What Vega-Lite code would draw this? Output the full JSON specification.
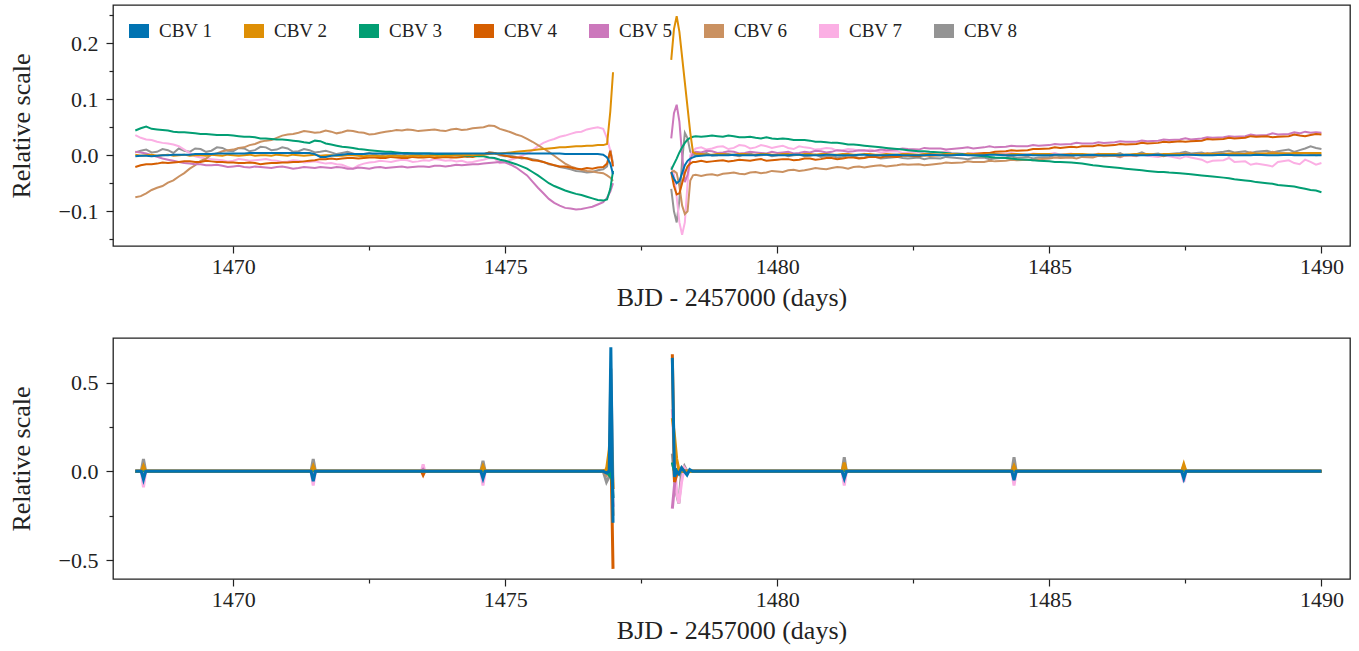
{
"$schema": "https://vega.github.io/schema/vega-lite/v6.json",
"background": "white",
"padding": {"left": 7, "top": 4, "right": 8, "bottom": 5},
"config": {
  "font": "Liberation Serif, serif",
  "view": {"stroke": "#222", "strokeWidth": 1.3},
  "axis": {"grid": false, "domain": false, "tickColor": "#222", "labelColor": "#222", "titleColor": "#222", "labelFont": "Liberation Serif, serif", "titleFont": "Liberation Serif, serif", "labelFontSize": 22, "titleFontSize": 26, "titleFontWeight": "normal", "tickWidth": 1.2, "labelPadding": 3, "titlePadding": 7},
  "legend": {"labelFont": "Liberation Serif, serif"},
  "concat": {"spacing": 26}
},
"resolve": {"scale": {"color": "independent"}, "legend": {"color": "independent"}},
"vconcat": [
{
  "width": 1237, "height": 241,
  "data": {"values": [
{"o":1,"t":1468.2,"CBV 1":-0.002,"CBV 2":0.001,"CBV 3":0.044,"CBV 4":-0.021,"CBV 5":0.006,"CBV 6":-0.075,"CBV 7":0.036,"CBV 8":0.005},
{"o":1,"t":1468.3,"CBV 1":-0.001,"CBV 2":-0.001,"CBV 3":0.048,"CBV 4":-0.018,"CBV 5":0.005,"CBV 6":-0.073,"CBV 7":0.031,"CBV 8":0.008},
{"o":1,"t":1468.4,"CBV 1":-0.001,"CBV 2":0.000,"CBV 3":0.051,"CBV 4":-0.016,"CBV 5":0.003,"CBV 6":-0.068,"CBV 7":0.028,"CBV 8":0.010},
{"o":1,"t":1468.5,"CBV 1":-0.002,"CBV 2":0.001,"CBV 3":0.047,"CBV 4":-0.016,"CBV 5":0.000,"CBV 6":-0.062,"CBV 7":0.027,"CBV 8":0.005},
{"o":1,"t":1468.6,"CBV 1":-0.001,"CBV 2":-0.001,"CBV 3":0.046,"CBV 4":-0.015,"CBV 5":-0.003,"CBV 6":-0.058,"CBV 7":0.024,"CBV 8":0.006},
{"o":1,"t":1468.7,"CBV 1":0.000,"CBV 2":0.000,"CBV 3":0.045,"CBV 4":-0.013,"CBV 5":-0.006,"CBV 6":-0.055,"CBV 7":0.022,"CBV 8":0.011},
{"o":1,"t":1468.8,"CBV 1":0.000,"CBV 2":0.001,"CBV 3":0.044,"CBV 4":-0.014,"CBV 5":-0.008,"CBV 6":-0.049,"CBV 7":0.021,"CBV 8":0.009},
{"o":1,"t":1468.9,"CBV 1":0.001,"CBV 2":-0.001,"CBV 3":0.042,"CBV 4":-0.013,"CBV 5":-0.010,"CBV 6":-0.045,"CBV 7":0.019,"CBV 8":0.004},
{"o":1,"t":1469.0,"CBV 1":0.001,"CBV 2":0.000,"CBV 3":0.041,"CBV 4":-0.012,"CBV 5":-0.012,"CBV 6":-0.038,"CBV 7":0.016,"CBV 8":0.012},
{"o":1,"t":1469.1,"CBV 1":0.001,"CBV 2":0.001,"CBV 3":0.041,"CBV 4":-0.011,"CBV 5":-0.014,"CBV 6":-0.032,"CBV 7":0.010,"CBV 8":0.008},
{"o":1,"t":1469.2,"CBV 1":0.001,"CBV 2":-0.001,"CBV 3":0.040,"CBV 4":-0.011,"CBV 5":-0.015,"CBV 6":-0.024,"CBV 7":0.004,"CBV 8":0.006},
{"o":1,"t":1469.3,"CBV 1":0.002,"CBV 2":0.000,"CBV 3":0.039,"CBV 4":-0.012,"CBV 5":-0.016,"CBV 6":-0.018,"CBV 7":-0.002,"CBV 8":0.012},
{"o":1,"t":1469.4,"CBV 1":0.002,"CBV 2":0.000,"CBV 3":0.038,"CBV 4":-0.012,"CBV 5":-0.016,"CBV 6":-0.010,"CBV 7":-0.004,"CBV 8":0.011},
{"o":1,"t":1469.5,"CBV 1":0.002,"CBV 2":-0.001,"CBV 3":0.038,"CBV 4":-0.010,"CBV 5":-0.018,"CBV 6":-0.006,"CBV 7":-0.006,"CBV 8":0.006},
{"o":1,"t":1469.6,"CBV 1":0.002,"CBV 2":0.001,"CBV 3":0.037,"CBV 4":-0.011,"CBV 5":-0.018,"CBV 6":0.001,"CBV 7":-0.007,"CBV 8":0.008},
{"o":1,"t":1469.7,"CBV 1":0.003,"CBV 2":0.000,"CBV 3":0.036,"CBV 4":-0.012,"CBV 5":-0.017,"CBV 6":0.003,"CBV 7":-0.008,"CBV 8":0.014},
{"o":1,"t":1469.8,"CBV 1":0.003,"CBV 2":-0.001,"CBV 3":0.036,"CBV 4":-0.012,"CBV 5":-0.019,"CBV 6":0.007,"CBV 7":-0.009,"CBV 8":0.013},
{"o":1,"t":1469.9,"CBV 1":0.003,"CBV 2":0.001,"CBV 3":0.036,"CBV 4":-0.013,"CBV 5":-0.021,"CBV 6":0.009,"CBV 7":-0.011,"CBV 8":0.008},
{"o":1,"t":1470.0,"CBV 1":0.003,"CBV 2":0.000,"CBV 3":0.035,"CBV 4":-0.013,"CBV 5":-0.020,"CBV 6":0.010,"CBV 7":-0.010,"CBV 8":0.007},
{"o":1,"t":1470.1,"CBV 1":0.003,"CBV 2":-0.001,"CBV 3":0.034,"CBV 4":-0.014,"CBV 5":-0.019,"CBV 6":0.013,"CBV 7":-0.007,"CBV 8":0.013},
{"o":1,"t":1470.2,"CBV 1":0.003,"CBV 2":0.000,"CBV 3":0.033,"CBV 4":-0.014,"CBV 5":-0.021,"CBV 6":0.014,"CBV 7":-0.008,"CBV 8":0.012},
{"o":1,"t":1470.3,"CBV 1":0.004,"CBV 2":0.001,"CBV 3":0.033,"CBV 4":-0.013,"CBV 5":-0.022,"CBV 6":0.018,"CBV 7":-0.010,"CBV 8":0.007},
{"o":1,"t":1470.4,"CBV 1":0.004,"CBV 2":-0.001,"CBV 3":0.032,"CBV 4":-0.014,"CBV 5":-0.020,"CBV 6":0.020,"CBV 7":-0.009,"CBV 8":0.009},
{"o":1,"t":1470.5,"CBV 1":0.004,"CBV 2":0.000,"CBV 3":0.030,"CBV 4":-0.016,"CBV 5":-0.021,"CBV 6":0.024,"CBV 7":-0.008,"CBV 8":0.015},
{"o":1,"t":1470.6,"CBV 1":0.004,"CBV 2":0.000,"CBV 3":0.030,"CBV 4":-0.015,"CBV 5":-0.022,"CBV 6":0.026,"CBV 7":-0.007,"CBV 8":0.014},
{"o":1,"t":1470.7,"CBV 1":0.004,"CBV 2":-0.001,"CBV 3":0.029,"CBV 4":-0.014,"CBV 5":-0.023,"CBV 6":0.027,"CBV 7":-0.009,"CBV 8":0.009},
{"o":1,"t":1470.8,"CBV 1":0.004,"CBV 2":0.001,"CBV 3":0.028,"CBV 4":-0.014,"CBV 5":-0.021,"CBV 6":0.031,"CBV 7":-0.010,"CBV 8":0.010},
{"o":1,"t":1470.9,"CBV 1":0.004,"CBV 2":0.000,"CBV 3":0.028,"CBV 4":-0.013,"CBV 5":-0.020,"CBV 6":0.035,"CBV 7":-0.012,"CBV 8":0.014},
{"o":1,"t":1471.0,"CBV 1":0.004,"CBV 2":-0.001,"CBV 3":0.027,"CBV 4":-0.013,"CBV 5":-0.022,"CBV 6":0.037,"CBV 7":-0.011,"CBV 8":0.012},
{"o":1,"t":1471.1,"CBV 1":0.004,"CBV 2":0.001,"CBV 3":0.026,"CBV 4":-0.012,"CBV 5":-0.024,"CBV 6":0.038,"CBV 7":-0.009,"CBV 8":0.006},
{"o":1,"t":1471.2,"CBV 1":0.004,"CBV 2":0.000,"CBV 3":0.025,"CBV 4":-0.012,"CBV 5":-0.023,"CBV 6":0.040,"CBV 7":-0.010,"CBV 8":0.007},
{"o":1,"t":1471.3,"CBV 1":0.004,"CBV 2":-0.001,"CBV 3":0.023,"CBV 4":-0.011,"CBV 5":-0.021,"CBV 6":0.043,"CBV 7":-0.013,"CBV 8":0.011},
{"o":1,"t":1471.4,"CBV 1":0.004,"CBV 2":0.000,"CBV 3":0.022,"CBV 4":-0.010,"CBV 5":-0.022,"CBV 6":0.042,"CBV 7":-0.012,"CBV 8":0.009},
{"o":1,"t":1471.5,"CBV 1":0.002,"CBV 2":0.001,"CBV 3":0.026,"CBV 4":-0.009,"CBV 5":-0.023,"CBV 6":0.040,"CBV 7":-0.011,"CBV 8":0.005},
{"o":1,"t":1471.6,"CBV 1":-0.003,"CBV 2":-0.001,"CBV 3":0.025,"CBV 4":-0.007,"CBV 5":-0.021,"CBV 6":0.041,"CBV 7":-0.013,"CBV 8":0.006},
{"o":1,"t":1471.7,"CBV 1":-0.003,"CBV 2":0.000,"CBV 3":0.021,"CBV 4":-0.007,"CBV 5":-0.022,"CBV 6":0.044,"CBV 7":-0.015,"CBV 8":0.008},
{"o":1,"t":1471.8,"CBV 1":-0.001,"CBV 2":0.000,"CBV 3":0.019,"CBV 4":-0.006,"CBV 5":-0.023,"CBV 6":0.042,"CBV 7":-0.014,"CBV 8":0.005},
{"o":1,"t":1471.9,"CBV 1":0.000,"CBV 2":-0.001,"CBV 3":0.017,"CBV 4":-0.007,"CBV 5":-0.021,"CBV 6":0.039,"CBV 7":-0.016,"CBV 8":0.002},
{"o":1,"t":1472.0,"CBV 1":0.001,"CBV 2":-0.001,"CBV 3":0.015,"CBV 4":-0.006,"CBV 5":-0.022,"CBV 6":0.041,"CBV 7":-0.017,"CBV 8":0.004},
{"o":1,"t":1472.1,"CBV 1":0.002,"CBV 2":0.000,"CBV 3":0.014,"CBV 4":-0.005,"CBV 5":-0.024,"CBV 6":0.044,"CBV 7":-0.021,"CBV 8":0.006},
{"o":1,"t":1472.2,"CBV 1":0.002,"CBV 2":0.000,"CBV 3":0.013,"CBV 4":-0.005,"CBV 5":-0.024,"CBV 6":0.043,"CBV 7":-0.024,"CBV 8":0.003},
{"o":1,"t":1472.3,"CBV 1":0.002,"CBV 2":-0.001,"CBV 3":0.011,"CBV 4":-0.006,"CBV 5":-0.022,"CBV 6":0.041,"CBV 7":-0.018,"CBV 8":0.000},
{"o":1,"t":1472.4,"CBV 1":0.002,"CBV 2":-0.002,"CBV 3":0.010,"CBV 4":-0.005,"CBV 5":-0.023,"CBV 6":0.040,"CBV 7":-0.015,"CBV 8":0.002},
{"o":1,"t":1472.5,"CBV 1":0.003,"CBV 2":-0.001,"CBV 3":0.009,"CBV 4":-0.004,"CBV 5":-0.024,"CBV 6":0.037,"CBV 7":-0.013,"CBV 8":0.004},
{"o":1,"t":1472.6,"CBV 1":0.003,"CBV 2":-0.001,"CBV 3":0.008,"CBV 4":-0.004,"CBV 5":-0.022,"CBV 6":0.038,"CBV 7":-0.012,"CBV 8":0.001},
{"o":1,"t":1472.7,"CBV 1":0.003,"CBV 2":-0.002,"CBV 3":0.007,"CBV 4":-0.005,"CBV 5":-0.021,"CBV 6":0.040,"CBV 7":-0.010,"CBV 8":-0.001},
{"o":1,"t":1472.8,"CBV 1":0.003,"CBV 2":-0.002,"CBV 3":0.006,"CBV 4":-0.005,"CBV 5":-0.023,"CBV 6":0.042,"CBV 7":-0.011,"CBV 8":0.002},
{"o":1,"t":1472.9,"CBV 1":0.003,"CBV 2":-0.001,"CBV 3":0.006,"CBV 4":-0.003,"CBV 5":-0.022,"CBV 6":0.043,"CBV 7":-0.012,"CBV 8":0.003},
{"o":1,"t":1473.0,"CBV 1":0.003,"CBV 2":-0.001,"CBV 3":0.005,"CBV 4":-0.004,"CBV 5":-0.021,"CBV 6":0.045,"CBV 7":-0.010,"CBV 8":0.000},
{"o":1,"t":1473.1,"CBV 1":0.003,"CBV 2":-0.002,"CBV 3":0.004,"CBV 4":-0.005,"CBV 5":-0.020,"CBV 6":0.044,"CBV 7":-0.008,"CBV 8":-0.001},
{"o":1,"t":1473.2,"CBV 1":0.003,"CBV 2":-0.002,"CBV 3":0.004,"CBV 4":-0.005,"CBV 5":-0.022,"CBV 6":0.046,"CBV 7":-0.009,"CBV 8":0.002},
{"o":1,"t":1473.3,"CBV 1":0.003,"CBV 2":-0.001,"CBV 3":0.003,"CBV 4":-0.003,"CBV 5":-0.021,"CBV 6":0.045,"CBV 7":-0.012,"CBV 8":0.003},
{"o":1,"t":1473.4,"CBV 1":0.003,"CBV 2":-0.001,"CBV 3":0.003,"CBV 4":-0.004,"CBV 5":-0.020,"CBV 6":0.043,"CBV 7":-0.011,"CBV 8":0.001},
{"o":1,"t":1473.5,"CBV 1":0.003,"CBV 2":-0.002,"CBV 3":0.003,"CBV 4":-0.004,"CBV 5":-0.020,"CBV 6":0.044,"CBV 7":-0.009,"CBV 8":-0.001},
{"o":1,"t":1473.6,"CBV 1":0.003,"CBV 2":-0.001,"CBV 3":0.003,"CBV 4":-0.003,"CBV 5":-0.021,"CBV 6":0.045,"CBV 7":-0.010,"CBV 8":0.000},
{"o":1,"t":1473.7,"CBV 1":0.003,"CBV 2":-0.001,"CBV 3":0.002,"CBV 4":-0.005,"CBV 5":-0.019,"CBV 6":0.046,"CBV 7":-0.007,"CBV 8":0.002},
{"o":1,"t":1473.8,"CBV 1":0.003,"CBV 2":-0.002,"CBV 3":0.002,"CBV 4":-0.004,"CBV 5":-0.019,"CBV 6":0.044,"CBV 7":-0.008,"CBV 8":0.001},
{"o":1,"t":1473.9,"CBV 1":0.003,"CBV 2":-0.001,"CBV 3":0.001,"CBV 4":-0.003,"CBV 5":-0.020,"CBV 6":0.043,"CBV 7":-0.010,"CBV 8":-0.001},
{"o":1,"t":1474.0,"CBV 1":0.003,"CBV 2":-0.001,"CBV 3":0.001,"CBV 4":-0.004,"CBV 5":-0.019,"CBV 6":0.046,"CBV 7":-0.009,"CBV 8":-0.001},
{"o":1,"t":1474.1,"CBV 1":0.003,"CBV 2":0.000,"CBV 3":0.000,"CBV 4":-0.004,"CBV 5":-0.017,"CBV 6":0.047,"CBV 7":-0.011,"CBV 8":0.001},
{"o":1,"t":1474.2,"CBV 1":0.003,"CBV 2":0.000,"CBV 3":0.000,"CBV 4":-0.003,"CBV 5":-0.018,"CBV 6":0.045,"CBV 7":-0.010,"CBV 8":0.000},
{"o":1,"t":1474.3,"CBV 1":0.003,"CBV 2":0.001,"CBV 3":-0.001,"CBV 4":-0.002,"CBV 5":-0.017,"CBV 6":0.046,"CBV 7":-0.013,"CBV 8":-0.003},
{"o":1,"t":1474.4,"CBV 1":0.003,"CBV 2":0.000,"CBV 3":-0.001,"CBV 4":-0.003,"CBV 5":-0.016,"CBV 6":0.048,"CBV 7":-0.012,"CBV 8":-0.002},
{"o":1,"t":1474.5,"CBV 1":0.003,"CBV 2":0.001,"CBV 3":-0.002,"CBV 4":-0.001,"CBV 5":-0.016,"CBV 6":0.049,"CBV 7":-0.010,"CBV 8":0.000},
{"o":1,"t":1474.6,"CBV 1":0.003,"CBV 2":0.001,"CBV 3":-0.002,"CBV 4":0.002,"CBV 5":-0.015,"CBV 6":0.050,"CBV 7":-0.008,"CBV 8":0.001},
{"o":1,"t":1474.7,"CBV 1":0.003,"CBV 2":0.002,"CBV 3":-0.004,"CBV 4":0.005,"CBV 5":-0.014,"CBV 6":0.053,"CBV 7":-0.005,"CBV 8":0.005},
{"o":1,"t":1474.8,"CBV 1":0.003,"CBV 2":0.003,"CBV 3":-0.005,"CBV 4":0.004,"CBV 5":-0.013,"CBV 6":0.052,"CBV 7":-0.006,"CBV 8":0.004},
{"o":1,"t":1474.9,"CBV 1":0.003,"CBV 2":0.003,"CBV 3":-0.008,"CBV 4":0.001,"CBV 5":-0.012,"CBV 6":0.047,"CBV 7":-0.014,"CBV 8":0.000},
{"o":1,"t":1475.0,"CBV 1":0.003,"CBV 2":0.004,"CBV 3":-0.010,"CBV 4":-0.001,"CBV 5":-0.013,"CBV 6":0.044,"CBV 7":-0.012,"CBV 8":-0.002},
{"o":1,"t":1475.1,"CBV 1":0.003,"CBV 2":0.005,"CBV 3":-0.013,"CBV 4":-0.003,"CBV 5":-0.017,"CBV 6":0.041,"CBV 7":-0.008,"CBV 8":-0.001},
{"o":1,"t":1475.2,"CBV 1":0.003,"CBV 2":0.006,"CBV 3":-0.016,"CBV 4":-0.004,"CBV 5":-0.022,"CBV 6":0.037,"CBV 7":-0.005,"CBV 8":-0.003},
{"o":1,"t":1475.3,"CBV 1":0.003,"CBV 2":0.007,"CBV 3":-0.020,"CBV 4":-0.004,"CBV 5":-0.029,"CBV 6":0.034,"CBV 7":-0.001,"CBV 8":-0.006},
{"o":1,"t":1475.4,"CBV 1":0.003,"CBV 2":0.008,"CBV 3":-0.024,"CBV 4":-0.006,"CBV 5":-0.036,"CBV 6":0.029,"CBV 7":0.003,"CBV 8":-0.005},
{"o":1,"t":1475.5,"CBV 1":0.003,"CBV 2":0.009,"CBV 3":-0.030,"CBV 4":-0.009,"CBV 5":-0.047,"CBV 6":0.024,"CBV 7":0.009,"CBV 8":-0.007},
{"o":1,"t":1475.6,"CBV 1":0.003,"CBV 2":0.010,"CBV 3":-0.036,"CBV 4":-0.010,"CBV 5":-0.058,"CBV 6":0.018,"CBV 7":0.016,"CBV 8":-0.009},
{"o":1,"t":1475.7,"CBV 1":0.003,"CBV 2":0.011,"CBV 3":-0.043,"CBV 4":-0.012,"CBV 5":-0.068,"CBV 6":0.012,"CBV 7":0.022,"CBV 8":-0.012},
{"o":1,"t":1475.8,"CBV 1":0.003,"CBV 2":0.012,"CBV 3":-0.050,"CBV 4":-0.015,"CBV 5":-0.078,"CBV 6":0.006,"CBV 7":0.026,"CBV 8":-0.016},
{"o":1,"t":1475.9,"CBV 1":0.003,"CBV 2":0.013,"CBV 3":-0.055,"CBV 4":-0.018,"CBV 5":-0.085,"CBV 6":-0.001,"CBV 7":0.029,"CBV 8":-0.018},
{"o":1,"t":1476.0,"CBV 1":0.003,"CBV 2":0.014,"CBV 3":-0.059,"CBV 4":-0.020,"CBV 5":-0.090,"CBV 6":-0.008,"CBV 7":0.033,"CBV 8":-0.021},
{"o":1,"t":1476.1,"CBV 1":0.002,"CBV 2":0.014,"CBV 3":-0.063,"CBV 4":-0.020,"CBV 5":-0.094,"CBV 6":-0.015,"CBV 7":0.035,"CBV 8":-0.023},
{"o":1,"t":1476.2,"CBV 1":0.002,"CBV 2":0.015,"CBV 3":-0.066,"CBV 4":-0.022,"CBV 5":-0.095,"CBV 6":-0.020,"CBV 7":0.038,"CBV 8":-0.025},
{"o":1,"t":1476.3,"CBV 1":0.002,"CBV 2":0.016,"CBV 3":-0.069,"CBV 4":-0.024,"CBV 5":-0.097,"CBV 6":-0.023,"CBV 7":0.041,"CBV 8":-0.028},
{"o":1,"t":1476.4,"CBV 1":0.002,"CBV 2":0.016,"CBV 3":-0.071,"CBV 4":-0.025,"CBV 5":-0.096,"CBV 6":-0.026,"CBV 7":0.042,"CBV 8":-0.029},
{"o":1,"t":1476.5,"CBV 1":0.002,"CBV 2":0.017,"CBV 3":-0.074,"CBV 4":-0.023,"CBV 5":-0.094,"CBV 6":-0.028,"CBV 7":0.046,"CBV 8":-0.031},
{"o":1,"t":1476.6,"CBV 1":0.002,"CBV 2":0.017,"CBV 3":-0.077,"CBV 4":-0.024,"CBV 5":-0.092,"CBV 6":-0.029,"CBV 7":0.048,"CBV 8":-0.030},
{"o":1,"t":1476.7,"CBV 1":0.002,"CBV 2":0.018,"CBV 3":-0.080,"CBV 4":-0.022,"CBV 5":-0.088,"CBV 6":-0.031,"CBV 7":0.050,"CBV 8":-0.027},
{"o":1,"t":1476.8,"CBV 1":0.001,"CBV 2":0.018,"CBV 3":-0.081,"CBV 4":-0.021,"CBV 5":-0.084,"CBV 6":-0.032,"CBV 7":0.047,"CBV 8":-0.025},
{"o":1,"t":1476.87,"CBV 1":-0.004,"CBV 2":0.020,"CBV 3":-0.079,"CBV 4":-0.015,"CBV 5":-0.076,"CBV 6":-0.036,"CBV 7":0.030,"CBV 8":-0.020},
{"o":1,"t":1476.93,"CBV 1":-0.015,"CBV 2":0.078,"CBV 3":-0.060,"CBV 4":0.008,"CBV 5":-0.065,"CBV 6":-0.040,"CBV 7":0.008,"CBV 8":0.010},
{"o":1,"t":1476.98,"CBV 1":-0.034,"CBV 2":0.148,"CBV 3":-0.028,"CBV 4":-0.020,"CBV 5":-0.050,"CBV 6":-0.046,"CBV 7":-0.020,"CBV 8":-0.015},
{"o":2,"t":1478.05,"CBV 1":-0.030,"CBV 2":0.170,"CBV 3":-0.026,"CBV 4":-0.030,"CBV 5":0.030,"CBV 6":-0.030,"CBV 7":-0.020,"CBV 8":-0.060},
{"o":2,"t":1478.10,"CBV 1":-0.042,"CBV 2":0.225,"CBV 3":-0.016,"CBV 4":-0.055,"CBV 5":0.075,"CBV 6":-0.028,"CBV 7":-0.035,"CBV 8":-0.100},
{"o":2,"t":1478.15,"CBV 1":-0.050,"CBV 2":0.248,"CBV 3":-0.006,"CBV 4":-0.070,"CBV 5":0.090,"CBV 6":-0.032,"CBV 7":-0.075,"CBV 8":-0.120},
{"o":2,"t":1478.20,"CBV 1":-0.046,"CBV 2":0.220,"CBV 3":0.005,"CBV 4":-0.068,"CBV 5":0.060,"CBV 6":-0.055,"CBV 7":-0.120,"CBV 8":-0.080},
{"o":2,"t":1478.25,"CBV 1":-0.032,"CBV 2":0.175,"CBV 3":0.014,"CBV 4":-0.050,"CBV 5":0.000,"CBV 6":-0.090,"CBV 7":-0.142,"CBV 8":-0.010},
{"o":2,"t":1478.30,"CBV 1":-0.018,"CBV 2":0.130,"CBV 3":0.022,"CBV 4":-0.032,"CBV 5":-0.048,"CBV 6":-0.105,"CBV 7":-0.120,"CBV 8":0.040},
{"o":2,"t":1478.35,"CBV 1":-0.010,"CBV 2":0.085,"CBV 3":0.028,"CBV 4":-0.020,"CBV 5":-0.035,"CBV 6":-0.100,"CBV 7":-0.050,"CBV 8":0.030},
{"o":2,"t":1478.40,"CBV 1":-0.006,"CBV 2":0.040,"CBV 3":0.031,"CBV 4":-0.015,"CBV 5":-0.008,"CBV 6":-0.045,"CBV 7":0.000,"CBV 8":0.006},
{"o":2,"t":1478.45,"CBV 1":-0.004,"CBV 2":0.005,"CBV 3":0.033,"CBV 4":-0.012,"CBV 5":0.004,"CBV 6":-0.036,"CBV 7":0.008,"CBV 8":0.001},
{"o":2,"t":1478.50,"CBV 1":-0.002,"CBV 2":0.003,"CBV 3":0.034,"CBV 4":-0.012,"CBV 5":0.006,"CBV 6":-0.035,"CBV 7":0.012,"CBV 8":0.000},
{"o":2,"t":1478.60,"CBV 1":-0.001,"CBV 2":0.002,"CBV 3":0.033,"CBV 4":-0.010,"CBV 5":0.005,"CBV 6":-0.037,"CBV 7":0.014,"CBV 8":0.002},
{"o":2,"t":1478.70,"CBV 1":0.000,"CBV 2":0.001,"CBV 3":0.034,"CBV 4":-0.012,"CBV 5":0.008,"CBV 6":-0.035,"CBV 7":0.010,"CBV 8":0.004},
{"o":2,"t":1478.80,"CBV 1":0.000,"CBV 2":0.001,"CBV 3":0.035,"CBV 4":-0.011,"CBV 5":0.007,"CBV 6":-0.034,"CBV 7":0.012,"CBV 8":-0.001},
{"o":2,"t":1478.90,"CBV 1":0.000,"CBV 2":0.002,"CBV 3":0.034,"CBV 4":-0.010,"CBV 5":0.004,"CBV 6":-0.036,"CBV 7":0.015,"CBV 8":0.000},
{"o":2,"t":1479.00,"CBV 1":0.000,"CBV 2":0.002,"CBV 3":0.033,"CBV 4":-0.009,"CBV 5":0.005,"CBV 6":-0.033,"CBV 7":0.016,"CBV 8":0.003},
{"o":2,"t":1479.1,"CBV 1":0.000,"CBV 2":0.001,"CBV 3":0.035,"CBV 4":-0.011,"CBV 5":0.007,"CBV 6":-0.032,"CBV 7":0.011,"CBV 8":0.002},
{"o":2,"t":1479.2,"CBV 1":0.001,"CBV 2":0.001,"CBV 3":0.034,"CBV 4":-0.010,"CBV 5":0.006,"CBV 6":-0.031,"CBV 7":0.013,"CBV 8":0.000},
{"o":2,"t":1479.3,"CBV 1":0.000,"CBV 2":0.002,"CBV 3":0.032,"CBV 4":-0.008,"CBV 5":0.003,"CBV 6":-0.033,"CBV 7":0.018,"CBV 8":-0.002},
{"o":2,"t":1479.4,"CBV 1":0.000,"CBV 2":0.002,"CBV 3":0.032,"CBV 4":-0.009,"CBV 5":0.004,"CBV 6":-0.034,"CBV 7":0.017,"CBV 8":0.002},
{"o":2,"t":1479.5,"CBV 1":0.000,"CBV 2":0.001,"CBV 3":0.033,"CBV 4":-0.010,"CBV 5":0.006,"CBV 6":-0.031,"CBV 7":0.012,"CBV 8":0.003},
{"o":2,"t":1479.6,"CBV 1":0.000,"CBV 2":0.001,"CBV 3":0.031,"CBV 4":-0.008,"CBV 5":0.005,"CBV 6":-0.030,"CBV 7":0.014,"CBV 8":-0.001},
{"o":2,"t":1479.7,"CBV 1":0.001,"CBV 2":0.002,"CBV 3":0.030,"CBV 4":-0.007,"CBV 5":0.004,"CBV 6":-0.032,"CBV 7":0.018,"CBV 8":0.000},
{"o":2,"t":1479.8,"CBV 1":0.001,"CBV 2":0.002,"CBV 3":0.032,"CBV 4":-0.010,"CBV 5":0.003,"CBV 6":-0.031,"CBV 7":0.016,"CBV 8":0.001},
{"o":2,"t":1479.9,"CBV 1":0.000,"CBV 2":0.001,"CBV 3":0.030,"CBV 4":-0.009,"CBV 5":0.006,"CBV 6":-0.028,"CBV 7":0.013,"CBV 8":-0.002},
{"o":2,"t":1480.0,"CBV 1":0.000,"CBV 2":0.001,"CBV 3":0.029,"CBV 4":-0.008,"CBV 5":0.004,"CBV 6":-0.029,"CBV 7":0.015,"CBV 8":0.000},
{"o":2,"t":1480.1,"CBV 1":0.000,"CBV 2":0.002,"CBV 3":0.030,"CBV 4":-0.007,"CBV 5":0.005,"CBV 6":-0.030,"CBV 7":0.017,"CBV 8":0.002},
{"o":2,"t":1480.2,"CBV 1":0.000,"CBV 2":0.002,"CBV 3":0.029,"CBV 4":-0.007,"CBV 5":0.006,"CBV 6":-0.027,"CBV 7":0.013,"CBV 8":-0.002},
{"o":2,"t":1480.3,"CBV 1":0.001,"CBV 2":0.001,"CBV 3":0.027,"CBV 4":-0.009,"CBV 5":0.003,"CBV 6":-0.026,"CBV 7":0.011,"CBV 8":0.000},
{"o":2,"t":1480.4,"CBV 1":0.001,"CBV 2":0.001,"CBV 3":0.027,"CBV 4":-0.008,"CBV 5":0.004,"CBV 6":-0.028,"CBV 7":0.016,"CBV 8":0.001},
{"o":2,"t":1480.5,"CBV 1":0.000,"CBV 2":0.002,"CBV 3":0.027,"CBV 4":-0.006,"CBV 5":0.006,"CBV 6":-0.027,"CBV 7":0.014,"CBV 8":-0.002},
{"o":2,"t":1480.6,"CBV 1":0.000,"CBV 2":0.002,"CBV 3":0.026,"CBV 4":-0.006,"CBV 5":0.005,"CBV 6":-0.025,"CBV 7":0.013,"CBV 8":-0.001},
{"o":2,"t":1480.7,"CBV 1":0.000,"CBV 2":0.001,"CBV 3":0.024,"CBV 4":-0.008,"CBV 5":0.008,"CBV 6":-0.023,"CBV 7":0.010,"CBV 8":0.001},
{"o":2,"t":1480.8,"CBV 1":0.000,"CBV 2":0.002,"CBV 3":0.024,"CBV 4":-0.007,"CBV 5":0.007,"CBV 6":-0.024,"CBV 7":0.011,"CBV 8":-0.003},
{"o":2,"t":1480.9,"CBV 1":0.001,"CBV 2":0.002,"CBV 3":0.023,"CBV 4":-0.005,"CBV 5":0.005,"CBV 6":-0.025,"CBV 7":0.013,"CBV 8":-0.002},
{"o":2,"t":1481.0,"CBV 1":0.001,"CBV 2":0.001,"CBV 3":0.022,"CBV 4":-0.005,"CBV 5":0.006,"CBV 6":-0.023,"CBV 7":0.012,"CBV 8":-0.001},
{"o":2,"t":1481.1,"CBV 1":0.000,"CBV 2":0.001,"CBV 3":0.022,"CBV 4":-0.007,"CBV 5":0.009,"CBV 6":-0.021,"CBV 7":0.008,"CBV 8":-0.004},
{"o":2,"t":1481.2,"CBV 1":0.000,"CBV 2":0.002,"CBV 3":0.021,"CBV 4":-0.006,"CBV 5":0.008,"CBV 6":-0.022,"CBV 7":0.009,"CBV 8":-0.003},
{"o":2,"t":1481.3,"CBV 1":0.000,"CBV 2":0.002,"CBV 3":0.019,"CBV 4":-0.004,"CBV 5":0.006,"CBV 6":-0.024,"CBV 7":0.011,"CBV 8":0.000},
{"o":2,"t":1481.4,"CBV 1":0.000,"CBV 2":0.001,"CBV 3":0.019,"CBV 4":-0.004,"CBV 5":0.007,"CBV 6":-0.021,"CBV 7":0.010,"CBV 8":-0.002},
{"o":2,"t":1481.5,"CBV 1":0.001,"CBV 2":0.001,"CBV 3":0.018,"CBV 4":-0.006,"CBV 5":0.009,"CBV 6":-0.020,"CBV 7":0.008,"CBV 8":-0.005},
{"o":2,"t":1481.6,"CBV 1":0.001,"CBV 2":0.002,"CBV 3":0.017,"CBV 4":-0.005,"CBV 5":0.009,"CBV 6":-0.022,"CBV 7":0.007,"CBV 8":-0.004},
{"o":2,"t":1481.7,"CBV 1":0.000,"CBV 2":0.002,"CBV 3":0.016,"CBV 4":-0.003,"CBV 5":0.007,"CBV 6":-0.020,"CBV 7":0.010,"CBV 8":-0.002},
{"o":2,"t":1481.8,"CBV 1":0.000,"CBV 2":0.001,"CBV 3":0.015,"CBV 4":-0.003,"CBV 5":0.008,"CBV 6":-0.019,"CBV 7":0.008,"CBV 8":-0.003},
{"o":2,"t":1481.9,"CBV 1":0.000,"CBV 2":0.001,"CBV 3":0.014,"CBV 4":-0.004,"CBV 5":0.010,"CBV 6":-0.018,"CBV 7":0.005,"CBV 8":-0.006},
{"o":2,"t":1482.0,"CBV 1":0.000,"CBV 2":0.002,"CBV 3":0.013,"CBV 4":-0.002,"CBV 5":0.009,"CBV 6":-0.020,"CBV 7":0.006,"CBV 8":-0.005},
{"o":2,"t":1482.2,"CBV 1":0.001,"CBV 2":0.001,"CBV 3":0.011,"CBV 4":-0.003,"CBV 5":0.010,"CBV 6":-0.018,"CBV 7":0.007,"CBV 8":-0.003},
{"o":2,"t":1482.3,"CBV 1":0.000,"CBV 2":0.002,"CBV 3":0.010,"CBV 4":-0.001,"CBV 5":0.012,"CBV 6":-0.016,"CBV 7":0.004,"CBV 8":-0.005},
{"o":2,"t":1482.4,"CBV 1":0.000,"CBV 2":0.002,"CBV 3":0.009,"CBV 4":-0.001,"CBV 5":0.011,"CBV 6":-0.017,"CBV 7":0.005,"CBV 8":-0.006},
{"o":2,"t":1482.6,"CBV 1":0.000,"CBV 2":0.001,"CBV 3":0.007,"CBV 4":-0.002,"CBV 5":0.010,"CBV 6":-0.016,"CBV 7":0.006,"CBV 8":-0.004},
{"o":2,"t":1482.7,"CBV 1":0.000,"CBV 2":0.002,"CBV 3":0.007,"CBV 4":0.000,"CBV 5":0.013,"CBV 6":-0.018,"CBV 7":0.003,"CBV 8":-0.007},
{"o":2,"t":1482.8,"CBV 1":0.001,"CBV 2":0.002,"CBV 3":0.006,"CBV 4":-0.001,"CBV 5":0.012,"CBV 6":-0.017,"CBV 7":0.004,"CBV 8":-0.005},
{"o":2,"t":1483.0,"CBV 1":0.000,"CBV 2":0.001,"CBV 3":0.005,"CBV 4":0.000,"CBV 5":0.012,"CBV 6":-0.015,"CBV 7":0.005,"CBV 8":-0.006},
{"o":2,"t":1483.1,"CBV 1":0.000,"CBV 2":0.002,"CBV 3":0.004,"CBV 4":0.002,"CBV 5":0.010,"CBV 6":-0.013,"CBV 7":0.007,"CBV 8":-0.003},
{"o":2,"t":1483.2,"CBV 1":0.000,"CBV 2":0.002,"CBV 3":0.003,"CBV 4":0.001,"CBV 5":0.011,"CBV 6":-0.014,"CBV 7":0.004,"CBV 8":-0.004},
{"o":2,"t":1483.4,"CBV 1":0.001,"CBV 2":0.001,"CBV 3":0.002,"CBV 4":0.001,"CBV 5":0.013,"CBV 6":-0.013,"CBV 7":0.003,"CBV 8":-0.006},
{"o":2,"t":1483.5,"CBV 1":0.000,"CBV 2":0.002,"CBV 3":0.001,"CBV 4":0.003,"CBV 5":0.014,"CBV 6":-0.011,"CBV 7":0.002,"CBV 8":-0.007},
{"o":2,"t":1483.6,"CBV 1":0.000,"CBV 2":0.002,"CBV 3":0.000,"CBV 4":0.002,"CBV 5":0.012,"CBV 6":-0.012,"CBV 7":0.004,"CBV 8":-0.005},
{"o":2,"t":1483.8,"CBV 1":0.000,"CBV 2":0.001,"CBV 3":-0.002,"CBV 4":0.004,"CBV 5":0.014,"CBV 6":-0.012,"CBV 7":0.003,"CBV 8":-0.004},
{"o":2,"t":1483.9,"CBV 1":0.001,"CBV 2":0.002,"CBV 3":-0.003,"CBV 4":0.004,"CBV 5":0.016,"CBV 6":-0.010,"CBV 7":0.001,"CBV 8":-0.007},
{"o":2,"t":1484.0,"CBV 1":0.001,"CBV 2":0.002,"CBV 3":-0.004,"CBV 4":0.006,"CBV 5":0.014,"CBV 6":-0.011,"CBV 7":0.002,"CBV 8":-0.006},
{"o":2,"t":1484.2,"CBV 1":0.000,"CBV 2":0.001,"CBV 3":-0.005,"CBV 4":0.007,"CBV 5":0.015,"CBV 6":-0.010,"CBV 7":0.003,"CBV 8":-0.004},
{"o":2,"t":1484.3,"CBV 1":0.000,"CBV 2":0.002,"CBV 3":-0.006,"CBV 4":0.009,"CBV 5":0.017,"CBV 6":-0.008,"CBV 7":0.004,"CBV 8":-0.002},
{"o":2,"t":1484.4,"CBV 1":0.000,"CBV 2":0.002,"CBV 3":-0.007,"CBV 4":0.008,"CBV 5":0.016,"CBV 6":-0.009,"CBV 7":0.002,"CBV 8":-0.005},
{"o":2,"t":1484.6,"CBV 1":0.001,"CBV 2":0.001,"CBV 3":-0.008,"CBV 4":0.009,"CBV 5":0.016,"CBV 6":-0.008,"CBV 7":0.001,"CBV 8":-0.003},
{"o":2,"t":1484.7,"CBV 1":0.000,"CBV 2":0.002,"CBV 3":-0.009,"CBV 4":0.011,"CBV 5":0.018,"CBV 6":-0.009,"CBV 7":0.003,"CBV 8":-0.006},
{"o":2,"t":1484.8,"CBV 1":0.000,"CBV 2":0.002,"CBV 3":-0.010,"CBV 4":0.011,"CBV 5":0.017,"CBV 6":-0.007,"CBV 7":0.002,"CBV 8":-0.004},
{"o":2,"t":1485.0,"CBV 1":0.000,"CBV 2":0.002,"CBV 3":-0.011,"CBV 4":0.012,"CBV 5":0.018,"CBV 6":-0.006,"CBV 7":0.002,"CBV 8":-0.003},
{"o":2,"t":1485.1,"CBV 1":0.001,"CBV 2":0.001,"CBV 3":-0.012,"CBV 4":0.014,"CBV 5":0.020,"CBV 6":-0.004,"CBV 7":0.004,"CBV 8":0.000},
{"o":2,"t":1485.2,"CBV 1":0.001,"CBV 2":0.001,"CBV 3":-0.012,"CBV 4":0.013,"CBV 5":0.019,"CBV 6":-0.005,"CBV 7":0.001,"CBV 8":-0.002},
{"o":2,"t":1485.4,"CBV 1":0.000,"CBV 2":0.002,"CBV 3":-0.013,"CBV 4":0.015,"CBV 5":0.020,"CBV 6":-0.004,"CBV 7":0.003,"CBV 8":-0.003},
{"o":2,"t":1485.5,"CBV 1":0.000,"CBV 2":0.002,"CBV 3":-0.014,"CBV 4":0.014,"CBV 5":0.022,"CBV 6":-0.006,"CBV 7":0.000,"CBV 8":0.001},
{"o":2,"t":1485.6,"CBV 1":0.000,"CBV 2":0.002,"CBV 3":-0.015,"CBV 4":0.016,"CBV 5":0.021,"CBV 6":-0.003,"CBV 7":0.001,"CBV 8":-0.001},
{"o":2,"t":1485.8,"CBV 1":0.001,"CBV 2":0.001,"CBV 3":-0.018,"CBV 4":0.016,"CBV 5":0.021,"CBV 6":-0.004,"CBV 7":0.000,"CBV 8":-0.002},
{"o":2,"t":1485.9,"CBV 1":0.000,"CBV 2":0.002,"CBV 3":-0.019,"CBV 4":0.018,"CBV 5":0.023,"CBV 6":-0.001,"CBV 7":0.003,"CBV 8":0.002},
{"o":2,"t":1486.0,"CBV 1":0.000,"CBV 2":0.002,"CBV 3":-0.020,"CBV 4":0.017,"CBV 5":0.022,"CBV 6":-0.002,"CBV 7":0.001,"CBV 8":0.000},
{"o":2,"t":1486.2,"CBV 1":0.000,"CBV 2":0.002,"CBV 3":-0.022,"CBV 4":0.018,"CBV 5":0.023,"CBV 6":-0.001,"CBV 7":-0.001,"CBV 8":0.001},
{"o":2,"t":1486.3,"CBV 1":0.000,"CBV 2":0.001,"CBV 3":-0.023,"CBV 4":0.020,"CBV 5":0.025,"CBV 6":-0.003,"CBV 7":-0.004,"CBV 8":0.004},
{"o":2,"t":1486.4,"CBV 1":0.001,"CBV 2":0.001,"CBV 3":-0.024,"CBV 4":0.019,"CBV 5":0.024,"CBV 6":0.000,"CBV 7":0.000,"CBV 8":-0.001},
{"o":2,"t":1486.6,"CBV 1":0.000,"CBV 2":0.002,"CBV 3":-0.026,"CBV 4":0.020,"CBV 5":0.024,"CBV 6":-0.001,"CBV 7":-0.002,"CBV 8":0.002},
{"o":2,"t":1486.7,"CBV 1":0.000,"CBV 2":0.002,"CBV 3":-0.027,"CBV 4":0.022,"CBV 5":0.026,"CBV 6":0.002,"CBV 7":0.001,"CBV 8":0.005},
{"o":2,"t":1486.8,"CBV 1":0.000,"CBV 2":0.002,"CBV 3":-0.028,"CBV 4":0.021,"CBV 5":0.025,"CBV 6":0.001,"CBV 7":-0.001,"CBV 8":0.001},
{"o":2,"t":1487.0,"CBV 1":0.001,"CBV 2":0.001,"CBV 3":-0.030,"CBV 4":0.022,"CBV 5":0.026,"CBV 6":0.000,"CBV 7":-0.003,"CBV 8":0.003},
{"o":2,"t":1487.1,"CBV 1":0.000,"CBV 2":0.002,"CBV 3":-0.030,"CBV 4":0.024,"CBV 5":0.028,"CBV 6":-0.002,"CBV 7":-0.001,"CBV 8":0.000},
{"o":2,"t":1487.2,"CBV 1":0.000,"CBV 2":0.002,"CBV 3":-0.031,"CBV 4":0.023,"CBV 5":0.027,"CBV 6":0.001,"CBV 7":-0.002,"CBV 8":0.002},
{"o":2,"t":1487.4,"CBV 1":0.000,"CBV 2":0.002,"CBV 3":-0.032,"CBV 4":0.025,"CBV 5":0.028,"CBV 6":0.000,"CBV 7":-0.006,"CBV 8":0.004},
{"o":2,"t":1487.5,"CBV 1":0.001,"CBV 2":0.002,"CBV 3":-0.033,"CBV 4":0.024,"CBV 5":0.030,"CBV 6":0.003,"CBV 7":-0.002,"CBV 8":0.006},
{"o":2,"t":1487.6,"CBV 1":0.001,"CBV 2":0.001,"CBV 3":-0.034,"CBV 4":0.025,"CBV 5":0.028,"CBV 6":0.002,"CBV 7":-0.004,"CBV 8":0.003},
{"o":2,"t":1487.8,"CBV 1":0.000,"CBV 2":0.002,"CBV 3":-0.036,"CBV 4":0.026,"CBV 5":0.030,"CBV 6":0.001,"CBV 7":-0.008,"CBV 8":0.005},
{"o":2,"t":1487.9,"CBV 1":0.000,"CBV 2":0.002,"CBV 3":-0.037,"CBV 4":0.029,"CBV 5":0.032,"CBV 6":0.004,"CBV 7":-0.013,"CBV 8":0.002},
{"o":2,"t":1488.0,"CBV 1":0.000,"CBV 2":0.002,"CBV 3":-0.038,"CBV 4":0.028,"CBV 5":0.031,"CBV 6":0.002,"CBV 7":-0.010,"CBV 8":0.004},
{"o":2,"t":1488.2,"CBV 1":0.001,"CBV 2":0.002,"CBV 3":-0.040,"CBV 4":0.029,"CBV 5":0.032,"CBV 6":0.003,"CBV 7":-0.009,"CBV 8":0.006},
{"o":2,"t":1488.3,"CBV 1":0.000,"CBV 2":0.003,"CBV 3":-0.041,"CBV 4":0.031,"CBV 5":0.034,"CBV 6":0.000,"CBV 7":-0.005,"CBV 8":0.008},
{"o":2,"t":1488.4,"CBV 1":0.000,"CBV 2":0.003,"CBV 3":-0.043,"CBV 4":0.030,"CBV 5":0.033,"CBV 6":0.002,"CBV 7":-0.012,"CBV 8":0.005},
{"o":2,"t":1488.6,"CBV 1":0.000,"CBV 2":0.002,"CBV 3":-0.045,"CBV 4":0.031,"CBV 5":0.034,"CBV 6":0.003,"CBV 7":-0.011,"CBV 8":0.007},
{"o":2,"t":1488.7,"CBV 1":0.000,"CBV 2":0.003,"CBV 3":-0.046,"CBV 4":0.034,"CBV 5":0.037,"CBV 6":0.005,"CBV 7":-0.017,"CBV 8":0.004},
{"o":2,"t":1488.8,"CBV 1":0.001,"CBV 2":0.003,"CBV 3":-0.048,"CBV 4":0.033,"CBV 5":0.035,"CBV 6":0.002,"CBV 7":-0.015,"CBV 8":0.006},
{"o":2,"t":1489.0,"CBV 1":0.000,"CBV 2":0.003,"CBV 3":-0.050,"CBV 4":0.034,"CBV 5":0.036,"CBV 6":0.003,"CBV 7":-0.018,"CBV 8":0.008},
{"o":2,"t":1489.1,"CBV 1":0.000,"CBV 2":0.003,"CBV 3":-0.051,"CBV 4":0.032,"CBV 5":0.039,"CBV 6":0.006,"CBV 7":-0.020,"CBV 8":0.005},
{"o":2,"t":1489.2,"CBV 1":0.000,"CBV 2":0.003,"CBV 3":-0.053,"CBV 4":0.033,"CBV 5":0.037,"CBV 6":0.004,"CBV 7":-0.012,"CBV 8":0.007},
{"o":2,"t":1489.4,"CBV 1":0.001,"CBV 2":0.003,"CBV 3":-0.055,"CBV 4":0.034,"CBV 5":0.038,"CBV 6":0.003,"CBV 7":-0.009,"CBV 8":0.010},
{"o":2,"t":1489.5,"CBV 1":0.000,"CBV 2":0.004,"CBV 3":-0.056,"CBV 4":0.037,"CBV 5":0.041,"CBV 6":0.001,"CBV 7":-0.014,"CBV 8":0.006},
{"o":2,"t":1489.6,"CBV 1":0.000,"CBV 2":0.004,"CBV 3":-0.058,"CBV 4":0.035,"CBV 5":0.039,"CBV 6":0.002,"CBV 7":-0.016,"CBV 8":0.009},
{"o":2,"t":1489.7,"CBV 1":0.000,"CBV 2":0.004,"CBV 3":-0.060,"CBV 4":0.034,"CBV 5":0.042,"CBV 6":0.004,"CBV 7":-0.008,"CBV 8":0.012},
{"o":2,"t":1489.8,"CBV 1":0.000,"CBV 2":0.004,"CBV 3":-0.062,"CBV 4":0.036,"CBV 5":0.040,"CBV 6":0.002,"CBV 7":-0.012,"CBV 8":0.016},
{"o":2,"t":1489.9,"CBV 1":0.000,"CBV 2":0.004,"CBV 3":-0.063,"CBV 4":0.038,"CBV 5":0.041,"CBV 6":0.000,"CBV 7":-0.017,"CBV 8":0.013},
{"o":2,"t":1490.0,"CBV 1":0.000,"CBV 2":0.004,"CBV 3":-0.066,"CBV 4":0.037,"CBV 5":0.040,"CBV 6":0.001,"CBV 7":-0.014,"CBV 8":0.011}
  ]},
  "transform": [{"fold": ["CBV 8","CBV 7","CBV 6","CBV 5","CBV 4","CBV 3","CBV 2","CBV 1"], "as": ["cbv","v"]}],
  "mark": {"type": "line", "strokeWidth": 2, "clip": true},
  "encoding": {
    "x": {"field": "t", "type": "quantitative", "title": "BJD - 2457000 (days)",
      "scale": {"domain": [1467.79, 1490.525], "nice": false, "zero": false},
      "axis": {"values": [1470, 1472.5, 1475, 1477.5, 1480, 1482.5, 1485, 1487.5, 1490],
        "labelExpr": "datum.value % 5 == 0 ? format(datum.value, 'd') : ''",
        "tickSize": {"condition": {"test": "datum.value % 5 != 0", "value": 4}, "value": 7}}},
    "y": {"field": "v", "type": "quantitative", "title": "Relative scale",
      "scale": {"domain": [-0.162, 0.268], "nice": false, "zero": false},
      "axis": {"values": [-0.15, -0.1, -0.05, 0, 0.05, 0.1, 0.15, 0.2, 0.25], "labelPadding": 8, "titlePadding": 24,
        "labelExpr": "abs(datum.value*10 - round(datum.value*10)) > 0.01 ? '' : format(datum.value, '.1f')",
        "tickSize": {"condition": {"test": "abs(datum.value*10 - round(datum.value*10)) > 0.01", "value": 4}, "value": 7}}},
    "color": {"field": "cbv", "type": "nominal",
      "scale": {"domain": ["CBV 1","CBV 2","CBV 3","CBV 4","CBV 5","CBV 6","CBV 7","CBV 8"], "range": ["#0173b2","#de8f05","#029e73","#d55e00","#cc78bc","#ca9161","#fbafe4","#949494"]},
      "legend": {"orient": "none", "legendX": 9, "legendY": 9, "direction": "horizontal", "columns": 8, "title": null,
        "symbolType": "M-1,0H1", "symbolSize": 400, "symbolStrokeWidth": 14, "labelFontSize": 19, "labelFont": "Liberation Serif, serif", "labelColor": "#222", "columnPadding": 3, "labelOffset": 3, "padding": 0}},
    "detail": {"field": "o", "type": "nominal"}
  }
},
{
  "width": 1237, "height": 241,
  "data": {"values": [
{"o":1,"t":1468.2,"CBV 1":0,"CBV 2":0,"CBV 3":0,"CBV 4":0,"CBV 5":0,"CBV 6":0,"CBV 7":0,"CBV 8":0},
{"o":1,"t":1468.31,"CBV 1":0,"CBV 2":0,"CBV 3":0,"CBV 4":0,"CBV 5":0,"CBV 6":0,"CBV 7":0,"CBV 8":0},
{"o":1,"t":1468.35,"CBV 1":-0.045,"CBV 2":0.03,"CBV 3":0.005,"CBV 4":0.01,"CBV 5":-0.03,"CBV 6":0.02,"CBV 7":-0.09,"CBV 8":0.07},
{"o":1,"t":1468.39,"CBV 1":0,"CBV 2":0,"CBV 3":0,"CBV 4":0,"CBV 5":0,"CBV 6":0,"CBV 7":0,"CBV 8":0},
{"o":1,"t":1471.43,"CBV 1":0,"CBV 2":0,"CBV 3":0,"CBV 4":0,"CBV 5":0,"CBV 6":0,"CBV 7":0,"CBV 8":0},
{"o":1,"t":1471.47,"CBV 1":-0.055,"CBV 2":0.03,"CBV 3":0.005,"CBV 4":0.01,"CBV 5":-0.03,"CBV 6":0.02,"CBV 7":-0.08,"CBV 8":0.07},
{"o":1,"t":1471.51,"CBV 1":0,"CBV 2":0,"CBV 3":0,"CBV 4":0,"CBV 5":0,"CBV 6":0,"CBV 7":0,"CBV 8":0},
{"o":1,"t":1473.46,"CBV 1":0,"CBV 2":0,"CBV 3":0,"CBV 4":0,"CBV 5":0,"CBV 6":0,"CBV 7":0,"CBV 8":0},
{"o":1,"t":1473.49,"CBV 1":0,"CBV 2":0,"CBV 3":0,"CBV 4":-0.02,"CBV 5":0.01,"CBV 6":0,"CBV 7":0.04,"CBV 8":0},
{"o":1,"t":1473.52,"CBV 1":0,"CBV 2":0,"CBV 3":0,"CBV 4":0,"CBV 5":0,"CBV 6":0,"CBV 7":0,"CBV 8":0},
{"o":1,"t":1474.55,"CBV 1":0,"CBV 2":0,"CBV 3":0,"CBV 4":0,"CBV 5":0,"CBV 6":0,"CBV 7":0,"CBV 8":0},
{"o":1,"t":1474.59,"CBV 1":-0.04,"CBV 2":0.03,"CBV 3":0.005,"CBV 4":0.01,"CBV 5":-0.02,"CBV 6":0.015,"CBV 7":-0.08,"CBV 8":0.06},
{"o":1,"t":1474.63,"CBV 1":0,"CBV 2":0,"CBV 3":0,"CBV 4":0,"CBV 5":0,"CBV 6":0,"CBV 7":0,"CBV 8":0},
{"o":1,"t":1476.8,"CBV 1":0,"CBV 2":0,"CBV 3":0,"CBV 4":0,"CBV 5":0,"CBV 6":0,"CBV 7":0,"CBV 8":0},
{"o":1,"t":1476.86,"CBV 1":-0.01,"CBV 2":0.01,"CBV 3":0,"CBV 4":0.01,"CBV 5":0,"CBV 6":-0.02,"CBV 7":0,"CBV 8":-0.06},
{"o":1,"t":1476.91,"CBV 1":0,"CBV 2":0.12,"CBV 3":-0.02,"CBV 4":0.05,"CBV 5":0.05,"CBV 6":0.02,"CBV 7":0.08,"CBV 8":-0.03},
{"o":1,"t":1476.94,"CBV 1":0.7,"CBV 2":0.25,"CBV 3":0.1,"CBV 4":0.15,"CBV 5":0.12,"CBV 6":0.1,"CBV 7":0.15,"CBV 8":0.58},
{"o":1,"t":1476.98,"CBV 1":-0.29,"CBV 2":-0.1,"CBV 3":-0.15,"CBV 4":-0.55,"CBV 5":-0.2,"CBV 6":-0.25,"CBV 7":-0.15,"CBV 8":-0.1},
{"o":2,"t":1478.07,"CBV 1":0.64,"CBV 2":0.3,"CBV 3":0.05,"CBV 4":0.66,"CBV 5":-0.21,"CBV 6":0.05,"CBV 7":0.35,"CBV 8":0.1},
{"o":2,"t":1478.11,"CBV 1":-0.03,"CBV 2":0.2,"CBV 3":0,"CBV 4":-0.06,"CBV 5":-0.08,"CBV 6":0,"CBV 7":0.05,"CBV 8":-0.05},
{"o":2,"t":1478.15,"CBV 1":0,"CBV 2":0.07,"CBV 3":0.01,"CBV 4":-0.02,"CBV 5":0,"CBV 6":0.01,"CBV 7":-0.12,"CBV 8":-0.13},
{"o":2,"t":1478.19,"CBV 1":-0.015,"CBV 2":0.01,"CBV 3":0,"CBV 4":0,"CBV 5":0.01,"CBV 6":0,"CBV 7":-0.18,"CBV 8":-0.18},
{"o":2,"t":1478.24,"CBV 1":0.02,"CBV 2":0,"CBV 3":0,"CBV 4":0.01,"CBV 5":0,"CBV 6":0.02,"CBV 7":-0.06,"CBV 8":0},
{"o":2,"t":1478.29,"CBV 1":0,"CBV 2":0,"CBV 3":0,"CBV 4":0,"CBV 5":0,"CBV 6":0,"CBV 7":0.02,"CBV 8":0.03},
{"o":2,"t":1478.34,"CBV 1":-0.02,"CBV 2":0,"CBV 3":0,"CBV 4":0,"CBV 5":0,"CBV 6":0,"CBV 7":0,"CBV 8":0},
{"o":2,"t":1478.39,"CBV 1":0.01,"CBV 2":0,"CBV 3":0,"CBV 4":0,"CBV 5":0,"CBV 6":0,"CBV 7":0,"CBV 8":0},
{"o":2,"t":1478.44,"CBV 1":0,"CBV 2":0,"CBV 3":0,"CBV 4":0,"CBV 5":0,"CBV 6":0,"CBV 7":0,"CBV 8":0},
{"o":2,"t":1481.19,"CBV 1":0,"CBV 2":0,"CBV 3":0,"CBV 4":0,"CBV 5":0,"CBV 6":0,"CBV 7":0,"CBV 8":0},
{"o":2,"t":1481.23,"CBV 1":-0.04,"CBV 2":0.05,"CBV 3":0.005,"CBV 4":0.01,"CBV 5":-0.03,"CBV 6":0.02,"CBV 7":-0.08,"CBV 8":0.08},
{"o":2,"t":1481.27,"CBV 1":0,"CBV 2":0,"CBV 3":0,"CBV 4":0,"CBV 5":0,"CBV 6":0,"CBV 7":0,"CBV 8":0},
{"o":2,"t":1484.31,"CBV 1":0,"CBV 2":0,"CBV 3":0,"CBV 4":0,"CBV 5":0,"CBV 6":0,"CBV 7":0,"CBV 8":0},
{"o":2,"t":1484.35,"CBV 1":-0.05,"CBV 2":0.03,"CBV 3":0.005,"CBV 4":0.01,"CBV 5":-0.03,"CBV 6":0.02,"CBV 7":-0.08,"CBV 8":0.08},
{"o":2,"t":1484.39,"CBV 1":0,"CBV 2":0,"CBV 3":0,"CBV 4":0,"CBV 5":0,"CBV 6":0,"CBV 7":0,"CBV 8":0},
{"o":2,"t":1487.43,"CBV 1":0,"CBV 2":0,"CBV 3":0,"CBV 4":0,"CBV 5":0,"CBV 6":0,"CBV 7":0,"CBV 8":0},
{"o":2,"t":1487.47,"CBV 1":-0.04,"CBV 2":0.04,"CBV 3":0.005,"CBV 4":0.01,"CBV 5":-0.02,"CBV 6":0.01,"CBV 7":-0.06,"CBV 8":0.03},
{"o":2,"t":1487.51,"CBV 1":0,"CBV 2":0,"CBV 3":0,"CBV 4":0,"CBV 5":0,"CBV 6":0,"CBV 7":0,"CBV 8":0},
{"o":2,"t":1490.0,"CBV 1":0,"CBV 2":0,"CBV 3":0,"CBV 4":0,"CBV 5":0,"CBV 6":0,"CBV 7":0,"CBV 8":0}
  ]},
  "transform": [{"fold": ["CBV 8","CBV 7","CBV 6","CBV 5","CBV 4","CBV 3","CBV 2","CBV 1"], "as": ["cbv","v"]}],
  "mark": {"type": "line", "strokeWidth": 3, "clip": true},
  "encoding": {
    "x": {"field": "t", "type": "quantitative", "title": "BJD - 2457000 (days)",
      "scale": {"domain": [1467.79, 1490.525], "nice": false, "zero": false},
      "axis": {"values": [1470, 1472.5, 1475, 1477.5, 1480, 1482.5, 1485, 1487.5, 1490],
        "labelExpr": "datum.value % 5 == 0 ? format(datum.value, 'd') : ''",
        "tickSize": {"condition": {"test": "datum.value % 5 != 0", "value": 4}, "value": 7}}},
    "y": {"field": "v", "type": "quantitative", "title": "Relative scale",
      "scale": {"domain": [-0.607, 0.752], "nice": false, "zero": false},
      "axis": {"values": [-0.5, -0.25, 0, 0.25, 0.5], "labelPadding": 8, "titlePadding": 24,
        "labelExpr": "abs(datum.value*2 - round(datum.value*2)) > 0.01 ? '' : format(datum.value, '.1f')",
        "tickSize": {"condition": {"test": "abs(datum.value*2 - round(datum.value*2)) > 0.01", "value": 4}, "value": 7}}},
    "color": {"field": "cbv", "type": "nominal",
      "scale": {"domain": ["CBV 1","CBV 2","CBV 3","CBV 4","CBV 5","CBV 6","CBV 7","CBV 8"], "range": ["#0173b2","#de8f05","#029e73","#d55e00","#cc78bc","#ca9161","#fbafe4","#949494"]},
      "legend": null},
    "detail": {"field": "o", "type": "nominal"}
  }
}
]
}
